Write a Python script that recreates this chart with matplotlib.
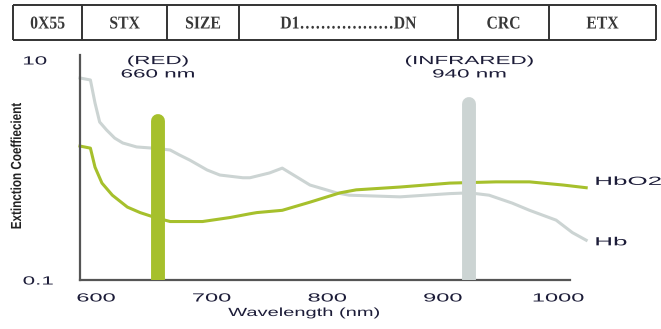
import matplotlib
matplotlib.use("Agg")
import matplotlib.pyplot as plt
from matplotlib.patheffects import AbstractPathEffect
from matplotlib.transforms import Affine2D

# absorption curves (wavelength in nm, extinction, log scale)
hb_nm = [586, 595, 599, 603, 609, 616, 623, 635, 649, 664, 672, 681, 696, 707,
         727, 733, 750, 761, 785, 808, 819, 863, 906, 923, 940, 960, 975, 998,
         1012, 1024]
hb_val = [6.86, 6.58, 4.06, 2.73, 2.31, 1.95, 1.76, 1.62, 1.58, 1.52, 1.37, 1.23,
          1.0, 0.90, 0.85, 0.85, 0.94, 1.04, 0.73, 0.62, 0.59, 0.57, 0.61, 0.62,
          0.59, 0.50, 0.43, 0.35, 0.27, 0.23]

hbo2_nm = [586, 595, 599, 605, 614, 627, 638, 651, 664, 692, 716, 733, 739, 761,
           785, 811, 825, 863, 906, 946, 975, 1004, 1024]
hbo2_val = [1.65, 1.58, 1.06, 0.76, 0.59, 0.46, 0.41, 0.37, 0.34, 0.34, 0.37, 0.40,
            0.41, 0.43, 0.51, 0.62, 0.66, 0.70, 0.76, 0.78, 0.78, 0.73, 0.69]

# LED wavelength markers
led_nm = [653.5, 923]
led_top = [2.79, 3.98]
led_labels = ["(RED)\n660 nm", "(INFRARED)\n940 nm"]

x_ticks = [600, 700, 800, 900, 1000]
y_ticks = [0.1, 10]
y_tick_labels = ["0.1", "10"]

header_labels = ["0X55", "STX", "SIZE", "D1………………DN", "CRC", "ETX"]

GREEN = "#a6c02c"
GREY = "#ccd4d3"
INK = "#1c1c38"


class Stretch(AbstractPathEffect):
    """draw text path scaled around its centre (or left edge)"""

    def __init__(self, sx=1.0, sy=1.0, anchor="center"):
        super().__init__()
        self.sx, self.sy, self.anchor = sx, sy, anchor

    def draw_path(self, renderer, gc, tpath, affine, rgbFace=None):
        ext = tpath.get_extents(affine)
        cx = ext.x0 if self.anchor == "left" else (ext.x0 + ext.x1) / 2
        cy = (ext.y0 + ext.y1) / 2
        t = affine + Affine2D().translate(-cx, -cy).scale(self.sx, self.sy).translate(cx, cy)
        renderer.draw_path(gc, tpath, t, rgbFace)


fig = plt.figure(figsize=(6.61, 3.29), dpi=100)

# header row (packet layout)
hdr = fig.add_axes([0, 0, 1, 1], zorder=-1)
hdr.set_xlim(0, 661)
hdr.set_ylim(329, 0)
hdr.axis("off")
edges = [13, 82, 167, 239, 458, 549, 656]
hdr.hlines([5, 40], edges[0], edges[-1], color="#333333", lw=1.4)
hdr.vlines(edges, 5, 40, color="#333333", lw=1.4)
for i, lab in enumerate(header_labels):
    t = hdr.text((edges[i] + edges[i + 1]) / 2, 24, lab, ha="center", va="center",
                 fontsize=13, family="Liberation Serif", weight="bold", color="#383838")
    t.set_path_effects([Stretch(sx=0.87)])

ax = fig.add_axes([80 / 661, 49 / 329, 490 / 661, 225 / 329])
ax.set_yscale("log")
ax.set_xlim(586, 1010)
ax.set_ylim(0.1, 11.1)

ax.plot(hb_nm, hb_val, color=GREY, lw=2.2, clip_on=False, zorder=2)
ax.plot(hbo2_nm, hbo2_val, color=GREEN, lw=2.2, clip_on=False, zorder=2)

for nm, top, col in zip(led_nm, led_top, [GREEN, GREY]):
    ax.plot([nm, nm], [0.05, top], color=col, lw=10, solid_capstyle="round", zorder=3)

for nm, lab in zip(led_nm, led_labels):
    t = ax.text(nm, 8.5, lab, ha="center", va="center", fontsize=8.5,
                family="Liberation Sans", color=INK, linespacing=1.15, clip_on=False)
    t.set_path_effects([Stretch(sx=1.9)])

for val, lab in zip([0.78, 0.22], ["HbO2", "Hb"]):
    t = ax.text(1032, val, lab, ha="left", va="center", fontsize=8.5,
                family="Liberation Sans", color=INK, clip_on=False)
    t.set_path_effects([Stretch(sx=2.2, anchor="left")])

for side in ["top", "right"]:
    ax.spines[side].set_visible(False)
for side in ["left", "bottom"]:
    ax.spines[side].set_color("#555555")
    ax.spines[side].set_linewidth(1.6)

ax.set_xticks(x_ticks)
ax.set_xticklabels([str(v) for v in x_ticks])
ax.set_xticks(x_ticks[1:], minor=True)
ax.tick_params(axis="x", which="major", length=0, pad=9)
ax.tick_params(axis="x", which="minor", direction="in", length=5, width=1.4, color="#555555")
ax.set_yticks(y_ticks)
ax.set_yticklabels(y_tick_labels)
ax.yaxis.set_minor_locator(matplotlib.ticker.NullLocator())
ax.tick_params(axis="y", length=0, pad=41)
for lbl in ax.get_xticklabels():
    lbl.set_fontsize(8.5)
    lbl.set_family("Liberation Sans")
    lbl.set_color(INK)
    lbl.set_path_effects([Stretch(sx=2.0)])
for lbl in ax.get_yticklabels():
    lbl.set_fontsize(8.5)
    lbl.set_family("Liberation Sans")
    lbl.set_color(INK)
    lbl.set_horizontalalignment("left")
    lbl.set_path_effects([Stretch(sx=1.9, anchor="left")])

t = fig.text(304 / 661, 1 - 313 / 329, "Wavelength (nm)", ha="center", va="center",
             fontsize=8.5, family="Liberation Sans", color=INK)
t.set_path_effects([Stretch(sx=1.7)])
t = fig.text(17 / 661, 1 - 166 / 329, "Extinction Coeffiecient", ha="center", va="center",
             rotation=90, fontsize=10.5, family="Liberation Sans", weight="bold", color="#222222")
t.set_path_effects([Stretch(sy=0.8)])

fig.savefig("out.png", dpi=100)
